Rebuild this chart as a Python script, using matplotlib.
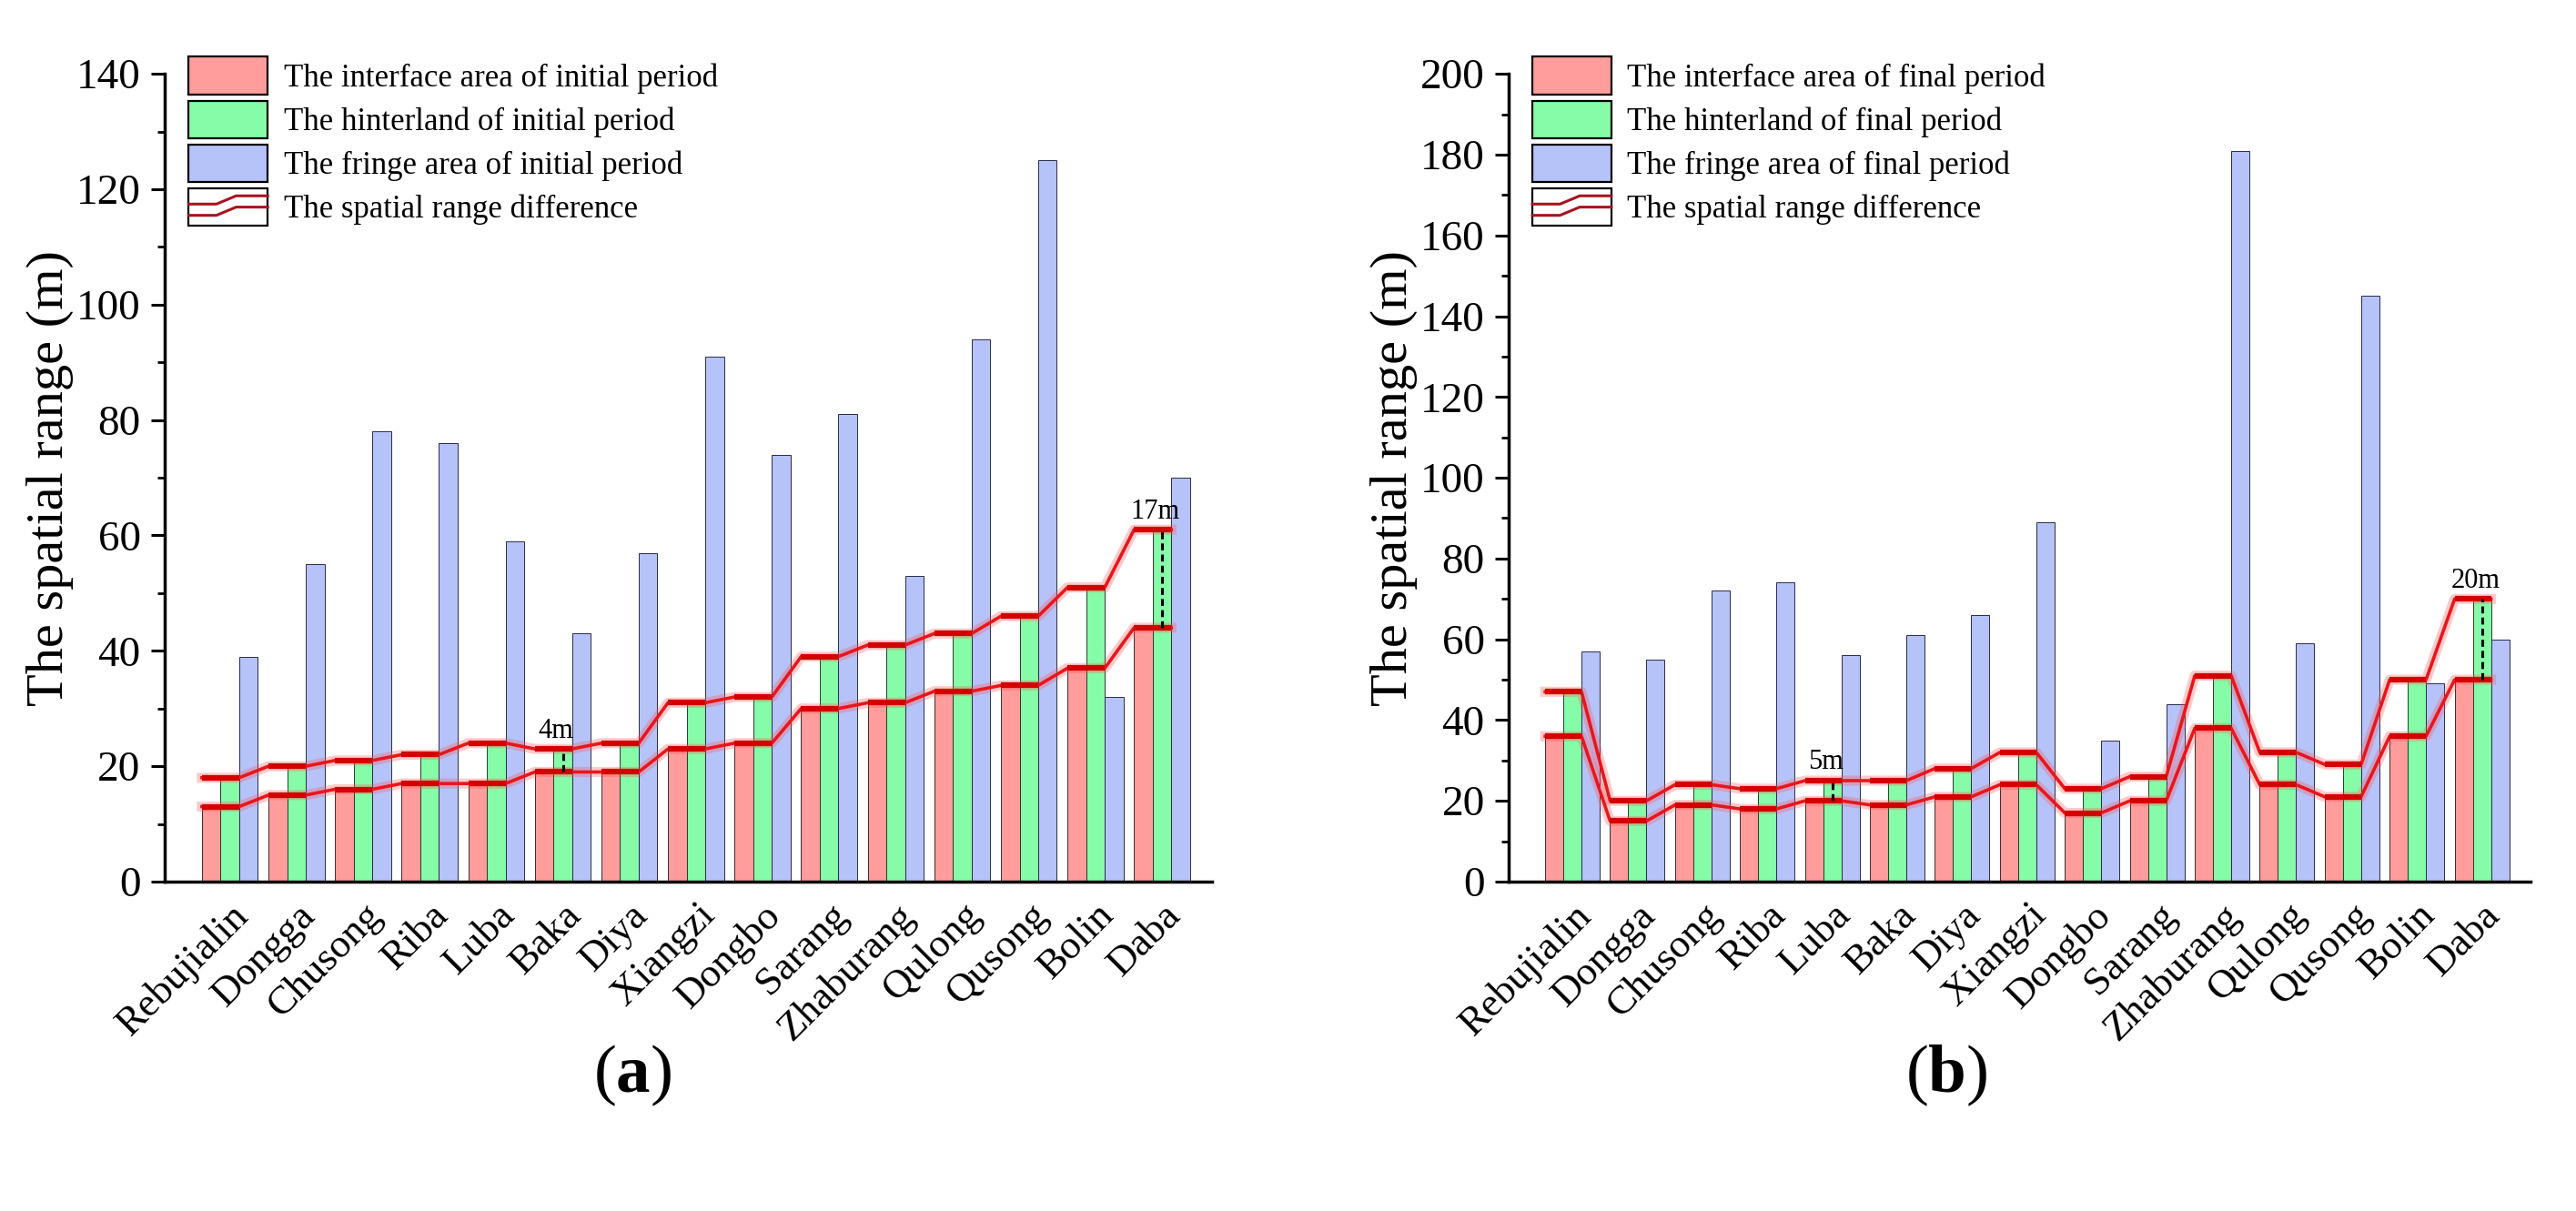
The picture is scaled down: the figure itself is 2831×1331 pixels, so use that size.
import numpy as np
import matplotlib
matplotlib.use("Agg")
import matplotlib.pyplot as plt
from matplotlib.patches import Patch, Rectangle
from matplotlib.lines import Line2D
from matplotlib.legend_handler import HandlerBase
from matplotlib.ticker import MultipleLocator

plt.rcParams['font.family'] = ['Liberation Serif', 'DejaVu Serif']
plt.rcParams['mathtext.fontset'] = 'custom'
plt.rcParams['mathtext.rm'] = 'Liberation Serif'
plt.rcParams['mathtext.bf'] = 'Liberation Serif:bold'

# ---- data ----
villages = ["Rebujialin", "Dongga", "Chusong", "Riba", "Luba", "Baka", "Diya",
            "Xiangzi", "Dongbo", "Sarang", "Zhaburang", "Qulong", "Qusong",
            "Bolin", "Daba"]

# (a) initial period
interface_a = [13, 15, 16, 17, 17, 19, 19, 23, 24, 30, 31, 33, 34, 37, 44]
hinterland_a = [18, 20, 21, 22, 24, 23, 24, 31, 32, 39, 41, 43, 46, 51, 61]
fringe_a = [39, 55, 78, 76, 59, 43, 57, 91, 74, 81, 53, 94, 125, 32, 70]

# (b) final period
interface_b = [36, 15, 19, 18, 20, 19, 21, 24, 17, 20, 38, 24, 21, 36, 50]
hinterland_b = [47, 20, 24, 23, 25, 25, 28, 32, 23, 26, 51, 32, 29, 50, 70]
fringe_b = [57, 55, 72, 74, 56, 61, 66, 89, 35, 44, 181, 59, 145, 49, 60]

# highlighted differences: (village, label)
marks_a = [("Baka", "4m"), ("Daba", "17m")]
marks_b = [("Luba", "5m"), ("Daba", "20m")]

RED = '#FF9C9C'
GREEN = '#86FCA8'
BLUE = '#B6C3F8'
LINE = '#E8161C'


class StepHandler(HandlerBase):
    # legend key: framed box with two rising red lines
    def create_artists(self, legend, orig_handle, xdescent, ydescent,
                       width, height, fontsize, trans):
        x0, y0 = -xdescent, -ydescent
        box = Rectangle((x0, y0), width, height, facecolor='white',
                        edgecolor='black', lw=1.6, transform=trans)
        fx = np.array([0.0, 0.35, 0.6, 1.0])
        lo = np.array([0.28, 0.28, 0.5, 0.5])
        hi = np.array([0.58, 0.58, 0.8, 0.8])
        l1 = Line2D(x0 + fx * width, y0 + lo * height, color='#A8141E', lw=2.2, transform=trans)
        l2 = Line2D(x0 + fx * width, y0 + hi * height, color='#A8141E', lw=2.2, transform=trans)
        return [box, l1, l2]


def draw_panel(ax, red, green, blue, marks, period, ymax):
    n = len(villages)
    x = np.arange(n)
    w = 0.28
    ax.bar(x - w, red, w, color=RED, edgecolor='#3a2a2a', lw=0.7, zorder=2)
    ax.bar(x, green, w, color=GREEN, edgecolor='#2a3a2a', lw=0.7, zorder=2)
    ax.bar(x + w, blue, w, color=BLUE, edgecolor='#2a2a45', lw=0.7, zorder=2)

    # stepped difference lines along the tops of interface / hinterland bars
    for vals in (red, green):
        xs, ys = [], []
        for i, v in enumerate(vals):
            xs += [i - 1.5 * w, i + 0.5 * w]
            ys += [v, v]
        ax.plot(xs, ys, color='#FF5050', lw=8, alpha=0.3, zorder=3,
                solid_joinstyle='round')
        ax.plot(xs, ys, color=LINE, lw=2.6, zorder=4)
        for i, v in enumerate(vals):
            ax.plot([i - 1.5 * w, i + 0.5 * w], [v, v], color='#D40000',
                    lw=4.5, zorder=4, solid_capstyle='butt')

    for name, label in marks:
        i = villages.index(name)
        ax.plot([i, i], [red[i], green[i]], color='black', lw=2.2,
                ls=(0, (2.5, 1.5)), zorder=5)
        ax.annotate(label, (i - 0.1, green[i]), xytext=(0, 4),
                    textcoords='offset points', ha='center', va='bottom',
                    fontsize=22, zorder=6)

    ax.set_xlim(-0.98, 14.75)
    ax.set_ylim(0, ymax)
    ax.set_xticks(x)
    ax.set_xticklabels(villages, rotation=45, ha='right',
                       rotation_mode='anchor', fontsize=32)
    ax.tick_params(axis='x', length=0, pad=12)
    ax.yaxis.set_major_locator(MultipleLocator(20))
    ax.yaxis.set_minor_locator(MultipleLocator(10))
    ax.tick_params(axis='y', which='major', length=11, width=2.2,
                   labelsize=34, pad=8)
    ax.tick_params(axis='y', which='minor', length=6, width=2)
    for s in ('top', 'right'):
        ax.spines[s].set_visible(False)
    for s in ('left', 'bottom'):
        ax.spines[s].set_linewidth(2.5)
    ax.set_ylabel("The spatial range (m)", fontsize=42, labelpad=2)

    step = Line2D([], [])
    handles = [Patch(facecolor=RED, edgecolor='black', lw=1.6),
               Patch(facecolor=GREEN, edgecolor='black', lw=1.6),
               Patch(facecolor=BLUE, edgecolor='black', lw=1.6),
               step]
    labels = [f"The interface area of {period} period",
              f"The hinterland of {period} period",
              f"The fringe area of {period} period",
              "The spatial range difference"]
    ax.legend(handles, labels, loc='upper left', bbox_to_anchor=(0.02, 1.025),
              frameon=False, fontsize=25, handlelength=2.5, handleheight=1.45,
              labelspacing=0.2, handletextpad=0.5, borderpad=0.1,
              borderaxespad=0, handler_map={step: StepHandler()})


fig = plt.figure(figsize=(28.31, 13.31), dpi=100)
ax_a = fig.add_axes([0.0639, 0.272, 0.4066, 0.667])
ax_b = fig.add_axes([0.5857, 0.272, 0.3967, 0.667])

draw_panel(ax_a, interface_a, hinterland_a, fringe_a, marks_a, "initial", 140)
draw_panel(ax_b, interface_b, hinterland_b, fringe_b, marks_b, "final", 200)

fig.text(0.2455, 0.112, r'$(\mathbf{a})$', ha='center', va='center', fontsize=54)
fig.text(0.7556, 0.112, r'$(\mathbf{b})$', ha='center', va='center', fontsize=54)

fig.savefig("out.png", dpi=100, facecolor='white')
